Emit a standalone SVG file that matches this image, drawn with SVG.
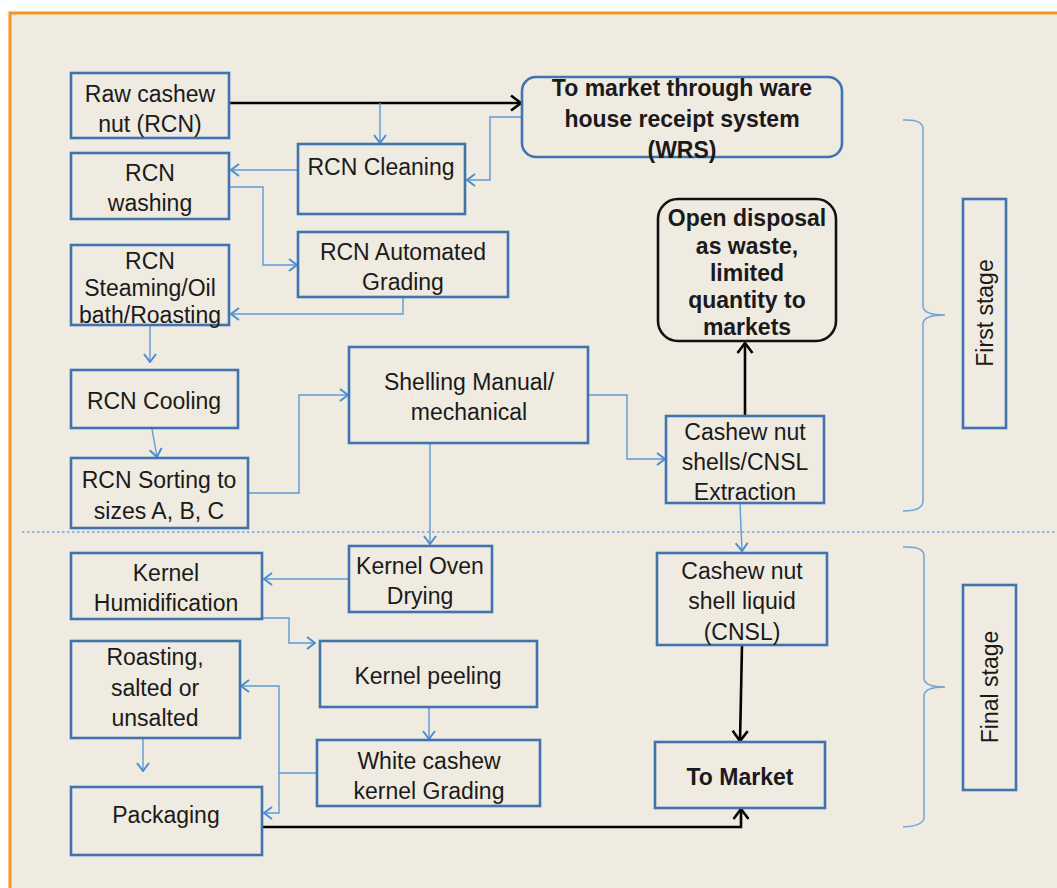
<svg xmlns="http://www.w3.org/2000/svg" width="1057" height="888" viewBox="0 0 1057 888">
  <defs>
    <style>
      .box { fill: none; stroke: #3F74B1; stroke-width: 2.6; }
      .rbox { fill: none; stroke: #3F74B1; stroke-width: 2.6; }
      .kbox { fill: none; stroke: #111; stroke-width: 2.6; }
      .t { font-family: "Liberation Sans", Arial, sans-serif; font-size: 23px; fill: #1a1a1a; text-anchor: middle; dominant-baseline: central; }
      .b { font-weight: bold; }
      .blue { fill: none; stroke: #5B9BDB; stroke-width: 1.4; }
      .black { fill: none; stroke: #000; stroke-width: 2.6; }
      .brace { fill: none; stroke: #6FA3DA; stroke-width: 1.5; }
    </style>
    <marker id="arrB" viewBox="0 0 10 14" refX="9" refY="7" markerWidth="10" markerHeight="14" markerUnits="userSpaceOnUse" orient="auto">
      <path d="M1,1 L9,7 L1,13" fill="none" stroke="#4A8DD6" stroke-width="2"/>
    </marker>
    <marker id="arrK" viewBox="0 0 12 18" refX="11" refY="9" markerWidth="12" markerHeight="18" markerUnits="userSpaceOnUse" orient="auto">
      <path d="M1,1.5 L11,9 L1,16.5" fill="none" stroke="#000" stroke-width="2.6"/>
    </marker>
  </defs>

  <!-- page and frame -->
  <rect x="0" y="0" width="1057" height="888" fill="#ffffff"/>
  <rect x="10" y="13" width="1060" height="890" fill="#F0EBE0" stroke="#F7941D" stroke-width="3"/>

  <!-- stage divider -->
  <line x1="22" y1="532" x2="1057" y2="532" stroke="#6FA8DC" stroke-width="1.4" stroke-dasharray="2.5 2.5"/>

  <!-- connectors -->
  <g id="connectors">
    <path class="black" d="M229,103 H521" marker-end="url(#arrK)"/>
    <path class="blue" d="M380,103 V143" marker-end="url(#arrB)"/>
    <path class="blue" d="M522,117 H490 V180 H467" marker-end="url(#arrB)"/>
    <path class="blue" d="M298,170 H231" marker-end="url(#arrB)"/>
    <path class="blue" d="M230,187 H263 V265 H297" marker-end="url(#arrB)"/>
    <path class="blue" d="M403,298 V314 H231" marker-end="url(#arrB)"/>
    <path class="blue" d="M150,326 V362" marker-end="url(#arrB)"/>
    <path class="blue" d="M152,429 L157,457" marker-end="url(#arrB)"/>
    <path class="blue" d="M249,493 H299 V395 H348" marker-end="url(#arrB)"/>
    <path class="blue" d="M589,395 H627 V459 H665" marker-end="url(#arrB)"/>
    <path class="black" d="M745,416 V343" marker-end="url(#arrK)"/>
    <path class="blue" d="M430,444 V544" marker-end="url(#arrB)"/>
    <path class="blue" d="M740,504 L742,551" marker-end="url(#arrB)"/>
    <path class="blue" d="M349,579 H264" marker-end="url(#arrB)"/>
    <path class="blue" d="M263,618 H289 V643 H315" marker-end="url(#arrB)"/>
    <path class="blue" d="M429,708 V739" marker-end="url(#arrB)"/>
    <path class="blue" d="M317,773 H279 V686 H241" marker-end="url(#arrB)"/>
    <path class="blue" d="M279,773 V813 H264" marker-end="url(#arrB)"/>
    <path class="blue" d="M143,739 V771" marker-end="url(#arrB)"/>
    <path class="black" d="M263,827 H741 V809" stroke-width="2" marker-end="url(#arrK)"/>
    <path class="black" d="M742,646 L740,741" marker-end="url(#arrK)"/>
  </g>

  <!-- first stage -->
  <g id="raw-cashew">
    <rect class="box" x="71" y="73" width="158" height="65"/>
    <text class="t" x="150" y="94">Raw cashew</text>
    <text class="t" x="150" y="124">nut (RCN)</text>
  </g>
  <g id="wrs">
    <rect class="rbox" x="522" y="77" width="320" height="80" rx="14"/>
    <text class="t b" x="682" y="88" font-size="22.5">To market through ware</text>
    <text class="t b" x="682" y="119" font-size="22.5">house receipt system</text>
    <text class="t b" x="682" y="150" font-size="22.5">(WRS)</text>
  </g>
  <g id="rcn-cleaning">
    <rect class="box" x="298" y="144" width="167" height="70"/>
    <text class="t" x="381" y="167">RCN Cleaning</text>
  </g>
  <g id="rcn-washing">
    <rect class="box" x="71" y="153" width="158" height="66"/>
    <text class="t" x="150" y="173">RCN</text>
    <text class="t" x="150" y="203">washing</text>
  </g>
  <g id="rcn-grading">
    <rect class="box" x="298" y="232" width="210" height="65"/>
    <text class="t" x="403" y="252">RCN Automated</text>
    <text class="t" x="403" y="282">Grading</text>
  </g>
  <g id="rcn-steaming">
    <rect class="box" x="71" y="245" width="158" height="80"/>
    <text class="t" x="150" y="261" font-size="21.5">RCN</text>
    <text class="t" x="150" y="288" font-size="21.5">Steaming/Oil</text>
    <text class="t" x="150" y="315" font-size="21.5">bath/Roasting</text>
  </g>
  <g id="rcn-cooling">
    <rect class="box" x="71" y="370" width="167" height="58"/>
    <text class="t" x="154" y="401">RCN Cooling</text>
  </g>
  <g id="rcn-sorting">
    <rect class="box" x="71" y="458" width="177" height="70"/>
    <text class="t" x="159" y="480">RCN Sorting to</text>
    <text class="t" x="159" y="511">sizes A, B, C</text>
  </g>
  <g id="shelling">
    <rect class="box" x="349" y="347" width="239" height="96"/>
    <text class="t" x="469" y="382" font-size="24">Shelling Manual/</text>
    <text class="t" x="469" y="412" font-size="24">mechanical</text>
  </g>
  <g id="cnsl-extraction">
    <rect class="box" x="666" y="416" width="158" height="87"/>
    <text class="t" x="745" y="432">Cashew nut</text>
    <text class="t" x="745" y="462">shells/CNSL</text>
    <text class="t" x="745" y="492">Extraction</text>
  </g>
  <g id="open-disposal">
    <rect class="kbox" x="658" y="199" width="178" height="142" rx="20"/>
    <text class="t b" x="747" y="218" font-size="19">Open disposal</text>
    <text class="t b" x="747" y="246" font-size="19">as waste,</text>
    <text class="t b" x="747" y="273" font-size="19">limited</text>
    <text class="t b" x="747" y="300" font-size="19">quantity to</text>
    <text class="t b" x="747" y="327" font-size="19">markets</text>
  </g>

  <!-- final stage -->
  <g id="oven-drying">
    <rect class="box" x="349" y="546" width="143" height="66"/>
    <text class="t" x="420" y="566">Kernel Oven</text>
    <text class="t" x="420" y="596">Drying</text>
  </g>
  <g id="humidification">
    <rect class="box" x="71" y="553" width="191" height="66"/>
    <text class="t" x="166" y="573">Kernel</text>
    <text class="t" x="166" y="603">Humidification</text>
  </g>
  <g id="peeling">
    <rect class="box" x="320" y="641" width="217" height="66"/>
    <text class="t" x="428" y="676">Kernel peeling</text>
  </g>
  <g id="roasting">
    <rect class="box" x="71" y="641" width="169" height="97"/>
    <text class="t" x="155" y="657">Roasting,</text>
    <text class="t" x="155" y="688">salted or</text>
    <text class="t" x="155" y="718">unsalted</text>
  </g>
  <g id="white-grading">
    <rect class="box" x="317" y="740" width="223" height="66"/>
    <text class="t" x="429" y="761">White cashew</text>
    <text class="t" x="429" y="791">kernel Grading</text>
  </g>
  <g id="packaging">
    <rect class="box" x="71" y="787" width="191" height="68"/>
    <text class="t" x="166" y="815">Packaging</text>
  </g>
  <g id="cnsl">
    <rect class="box" x="657" y="553" width="170" height="92"/>
    <text class="t" x="742" y="571">Cashew nut</text>
    <text class="t" x="742" y="601">shell liquid</text>
    <text class="t" x="742" y="632">(CNSL)</text>
  </g>
  <g id="to-market">
    <rect class="box" x="655" y="742" width="170" height="66"/>
    <text class="t b" x="740" y="777">To Market</text>
  </g>

  <!-- stage brackets and labels -->
  <g id="first-stage">
    <path class="brace" d="M903,120 Q922,119 923,128 V306 Q923,315 945,315 Q923,315 923,324 V502 Q922,511 903,511"/>
    <rect class="box" x="963" y="199" width="43" height="229"/>
    <text class="t" font-size="22" transform="translate(985,313) rotate(-90)">First stage</text>
  </g>
  <g id="final-stage">
    <path class="brace" d="M903,547 Q923,546 924,555 V678 Q924,687 945,687 Q924,687 924,696 V818 Q923,826 903,827"/>
    <rect class="box" x="963" y="585" width="53" height="205"/>
    <text class="t" font-size="22" transform="translate(990,687) rotate(-90)">Final stage</text>
  </g>
</svg>
